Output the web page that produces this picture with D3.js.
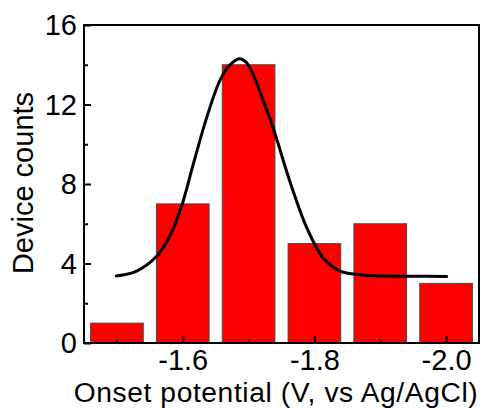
<!DOCTYPE html>
<html>
<head>
<meta charset="utf-8">
<script src="https://cdn.jsdelivr.net/npm/d3@7"></script>
<style>
  html, body { margin: 0; padding: 0; background: #fff; }
  svg { display: block; font-family: "Liberation Sans", Arial, sans-serif; }
</style>
</head>
<body>
<svg id="chart" width="489" height="408"></svg>
<script>
// Histogram of onset potentials (bin centres, V vs Ag/AgCl) and device counts
const binCenters = [-1.5, -1.6, -1.7, -1.8, -1.9, -2.0];
const counts = [1, 7, 14, 5, 6, 3];

// Fitted distribution curve, sampled points (potential, counts)
const fitX = [-1.499, -1.53, -1.56, -1.58, -1.598, -1.616, -1.636, -1.657, -1.672, -1.686, -1.697, -1.707, -1.72, -1.738, -1.763, -1.789, -1.814, -1.839, -1.865, -1.89, -1.95, -2.001];
const fitY = [3.37, 3.62, 4.35, 5.35, 6.86, 9.0, 11.3, 13.25, 14.0, 14.3, 14.1, 13.5, 12.4, 10.75, 8.1, 5.75, 4.25, 3.62, 3.45, 3.38, 3.36, 3.35];

const xTicksMajor = [-1.6, -1.8, -2.0];
const xTicksMinor = [-1.5, -1.7, -1.9];
const yTicksMajor = [0, 4, 8, 12, 16];
const yTicksMinor = [2, 6, 10, 14];

const binWidth = 0.08;

const svg = d3.select("#chart");
const margin = { left: 84, top: 25, right: 10, bottom: 65 };
const W = 489, H = 408;
const x0 = margin.left, x1 = W - margin.right;
const y0 = H - margin.bottom, y1 = margin.top;

const x = d3.scaleLinear().domain([-1.45, -2.05]).range([x0, x1]);
const y = d3.scaleLinear().domain([0, 16]).range([y0, y1]);

// Bars
svg.append("g").selectAll("rect")
  .data(binCenters.map((c, i) => ({ c, v: counts[i] })))
  .join("rect")
  .attr("x", d => x(d.c + binWidth / 2))
  .attr("width", d => x(d.c - binWidth / 2) - x(d.c + binWidth / 2))
  .attr("y", d => y(d.v))
  .attr("height", d => y(0) - y(d.v))
  .attr("fill", "#ff0000")
  .attr("stroke", "#4a4a4a")
  .attr("stroke-width", 1);

// Fitted curve
const line = d3.line()
  .x(d => x(d[0]))
  .y(d => y(d[1]))
  .curve(d3.curveCatmullRom.alpha(0.5));
svg.append("path")
  .datum(fitX.map((v, i) => [v, fitY[i]]))
  .attr("d", line)
  .attr("fill", "none")
  .attr("stroke", "#000")
  .attr("stroke-width", 3)
  .attr("stroke-linecap", "round")
  .attr("stroke-linejoin", "round");

// Bottom axis (ticks pointing inward)
const xAxis = d3.axisBottom(x).tickValues(xTicksMajor).tickSize(-7)
  .tickFormat(d3.format(".1f"));
const gx = svg.append("g").attr("transform", `translate(0,${y0})`).call(xAxis);
gx.select(".domain").remove();
gx.selectAll(".tick line").attr("stroke", "#000").attr("stroke-width", 2);
gx.selectAll(".tick text").attr("font-size", 29).attr("fill", "#000")
  .attr("dy", null).attr("y", 27)
  .text(d => d3.format(".1f")(d).replace("−", "-"));
svg.append("g").attr("transform", `translate(0,${y0})`)
  .call(d3.axisBottom(x).tickValues(xTicksMinor).tickSize(-4).tickFormat(""))
  .call(g => g.select(".domain").remove())
  .selectAll(".tick line").attr("stroke", "#000").attr("stroke-width", 2);

// Left axis (ticks pointing inward)
const yAxis = d3.axisLeft(y).tickValues(yTicksMajor).tickSize(-7);
const gy = svg.append("g").attr("transform", `translate(${x0},0)`).call(yAxis);
gy.select(".domain").remove();
gy.selectAll(".tick line").attr("stroke", "#000").attr("stroke-width", 2);
gy.selectAll(".tick text").attr("font-size", 29).attr("fill", "#000").attr("x", -7).attr("dy", "0.33em");
svg.append("g").attr("transform", `translate(${x0},0)`)
  .call(d3.axisLeft(y).tickValues(yTicksMinor).tickSize(-4).tickFormat(""))
  .call(g => g.select(".domain").remove())
  .selectAll(".tick line").attr("stroke", "#000").attr("stroke-width", 2);

// Frame
svg.append("rect")
  .attr("x", x0).attr("y", y1)
  .attr("width", x1 - x0).attr("height", y0 - y1)
  .attr("fill", "none").attr("stroke", "#000").attr("stroke-width", 2);

// Axis titles
svg.append("text")
  .attr("x", 276).attr("y", 401.5)
  .attr("text-anchor", "middle").attr("font-size", 28.2)
  .attr("letter-spacing", 0.6).attr("fill", "#000")
  .text("Onset potential (V, vs Ag/AgCl)");
svg.append("text")
  .attr("transform", `translate(33,${(y0 + y1) / 2 - 1}) rotate(-90)`)
  .attr("text-anchor", "middle").attr("font-size", 29).attr("fill", "#000")
  .text("Device counts");
</script>
</body>
</html>
